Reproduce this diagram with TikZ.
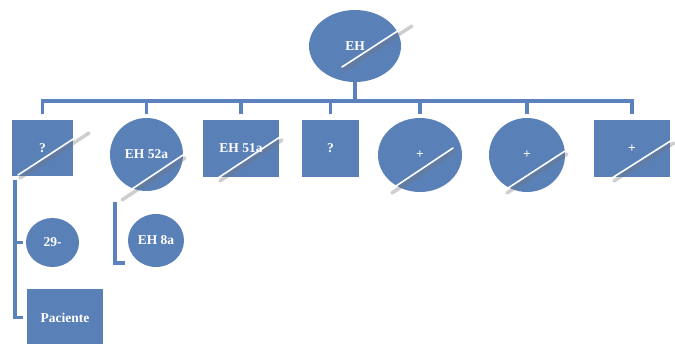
\documentclass[tikz,border=0pt]{standalone}
\usepackage{fontspec}
\setmainfont{Liberation Serif}
\usetikzlibrary{shapes.geometric}
\definecolor{sablue}{HTML}{5A80B8}
\definecolor{linkblue}{HTML}{5B82BC}
\tikzset{
  shp/.style={fill=sablue, draw=none, text=white, font=\fontsize{13.5}{16}\selectfont\bfseries, inner sep=0pt},
  boxn/.style={shp, rectangle, minimum width=#1, minimum height=57},
  ell/.style={shp, ellipse},
  conn/.style={draw=linkblue, line width=3.5pt},
  gloss/.style={draw=white, line width=1.6pt, line cap=round},
  glosssh/.style={draw=black!55, line width=3.5pt, opacity=0.35, line cap=round}
}
\begin{document}
\begin{tikzpicture}[x=1pt,y=-1pt]
\useasboundingbox (0,0) rectangle (675,343);
% nodes
\node[ell, minimum width=92, minimum height=72] (EH) at (355,46) {EH};
\node[boxn=61, minimum height=56] (b1) at (42.5,148) {?};
\node[ell, minimum width=73, minimum height=73] (b2) at (146.5,154.5) {EH 52a};
\node[boxn=76] (b3) at (241,148.5) {EH 51a};
\node[boxn=57] (b4) at (330.5,148.5) {?};
\node[ell, minimum width=84, minimum height=74] (b5) at (420,155) {+};
\node[ell, minimum width=76, minimum height=74] (b6) at (527,155) {+};
\node[boxn=76] (b7) at (632,148.5) {+};
\node[ell, minimum width=53, minimum height=49] (c1) at (52.5,242.5) {29-};
\node[boxn=76] (c2) at (65,317.5) {Paciente};
\node[ell, minimum width=56, minimum height=53] (c3) at (156,240.5) {EH 8a};
% helper coordinates
\coordinate (bus) at (0,101);
\coordinate (drop) at (0,114);
% connectors
\draw[conn] (EH.south) -- (EH.south |- bus);
\draw[conn] (b1.north |- drop) -- (b1.north |- bus) -- (b7.north |- bus) -- (b7.north |- drop);
\foreach \n in {b2,b3,b4,b5,b6}{
  \draw[conn] (\n.north |- bus) -- (\n.north |- drop);
}
\coordinate (l1) at (15,180);
\draw[conn] (l1) -- (l1 |- c2) -- ([xshift=-4pt]c2.west);
\draw[conn] (l1 |- c1) -- ([xshift=-3pt]c1.west);
\coordinate (l2) at (115,202);
\coordinate (l2b) at (115,263);
\draw[conn] (l2) -- (l2b) -- ([xshift=-3pt]c3.west |- l2b);
% gloss lines
\foreach \a/\b in {{342,67}/{410,23},{18,175}/{87,130},{120,197}/{183,155},{218,178}/{280,137},{390,190}/{453,148},{505,190}/{565,151},{612,178}/{672,140}}{
  \draw[glosssh] ([shift={(2,3)}]\a) -- ([shift={(2,3)}]\b);
  \draw[gloss] (\a) -- (\b);
}
\end{tikzpicture}
\end{document}
